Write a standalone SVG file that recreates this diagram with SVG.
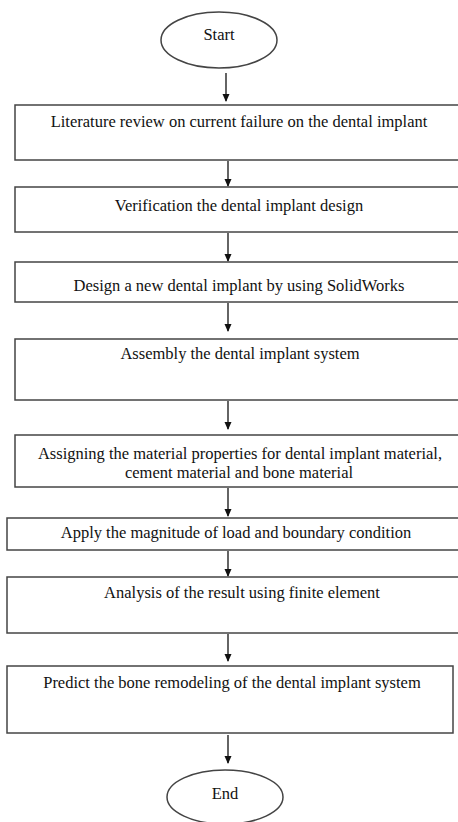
<svg xmlns="http://www.w3.org/2000/svg" width="458" height="822" viewBox="0 0 458 822">
<defs>
<marker id="ah" markerWidth="8" markerHeight="8" refX="7" refY="4" orient="auto" markerUnits="userSpaceOnUse">
<path d="M0,0.5 L8,4 L0,7.5 Z" fill="#111"/>
</marker>
<style>
.box{fill:#fff;stroke:#444;stroke-width:1.5}
.t{font-family:"Liberation Serif","Times New Roman",serif;font-size:16.5px;fill:#111;text-anchor:middle}
.c{stroke:#111;stroke-width:1.3;fill:none;marker-end:url(#ah)}
</style>
</defs>
<rect width="458" height="822" fill="#fff"/>
<g id="connectors">
<line class="c" x1="226" y1="73" x2="226" y2="101"/>
<line class="c" x1="228" y1="161" x2="228" y2="186"/>
<line class="c" x1="228" y1="233" x2="228" y2="261"/>
<line class="c" x1="228" y1="303" x2="228" y2="331"/>
<line class="c" x1="228" y1="401" x2="228" y2="429"/>
<line class="c" x1="228" y1="488" x2="228" y2="516"/>
<line class="c" x1="228" y1="551" x2="228" y2="576"/>
<line class="c" x1="228" y1="634" x2="228" y2="661"/>
<line class="c" x1="228" y1="735" x2="228" y2="763"/>
</g>
<g id="start">
<ellipse class="box" cx="219" cy="40" rx="58" ry="28"/>
<text class="t" x="219" y="40">Start</text>
</g>
<g id="n1">
<rect class="box" x="15" y="105" width="450" height="55"/>
<text class="t" x="239" y="127">Literature review on current failure on the dental implant</text>
</g>
<g id="n2">
<rect class="box" x="15" y="187" width="450" height="45"/>
<text class="t" x="239" y="211">Verification the dental implant design</text>
</g>
<g id="n3">
<rect class="box" x="15" y="262" width="450" height="40"/>
<text class="t" x="239" y="291">Design a new dental implant by using SolidWorks</text>
</g>
<g id="n4">
<rect class="box" x="15" y="339" width="450" height="61"/>
<text class="t" x="240" y="359">Assembly the dental implant system</text>
</g>
<g id="n5">
<rect class="box" x="15" y="435" width="450" height="52"/>
<text class="t" x="240" y="459">Assigning the material properties for dental implant material,</text>
<text class="t" x="239" y="478">cement material and bone material</text>
</g>
<g id="n6">
<rect class="box" x="7" y="518" width="460" height="32"/>
<text class="t" x="236" y="538">Apply the magnitude of load and boundary condition</text>
</g>
<g id="n7">
<rect class="box" x="7" y="577" width="460" height="56"/>
<text class="t" x="242" y="598">Analysis of the result using finite element</text>
</g>
<g id="n8">
<rect class="box" x="7" y="666" width="446" height="67"/>
<text class="t" x="232" y="688">Predict the bone remodeling of the dental implant system</text>
</g>
<g id="end">
<ellipse class="box" cx="225" cy="797" rx="58" ry="27"/>
<text class="t" x="225" y="799">End</text>
</g>
</svg>
